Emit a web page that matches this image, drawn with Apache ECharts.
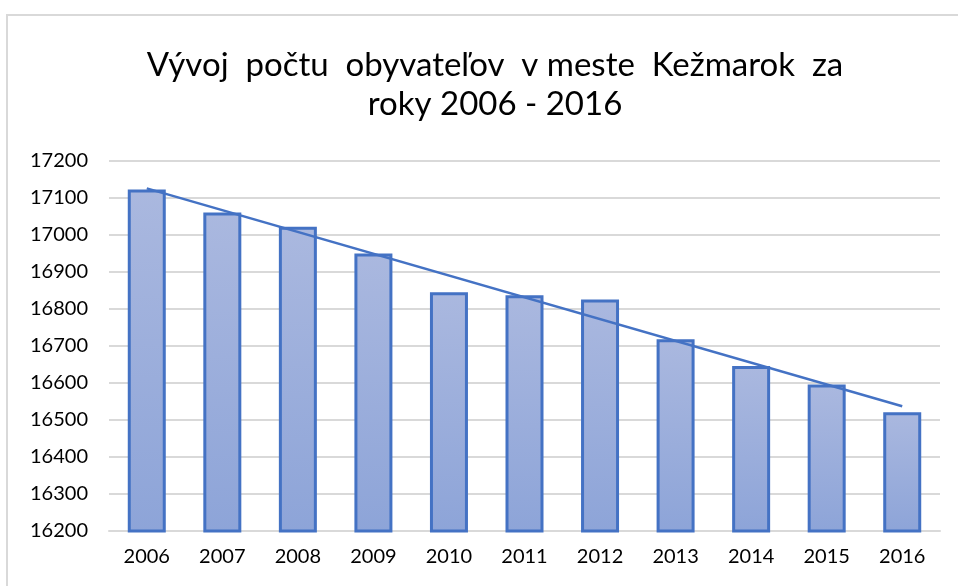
<!DOCTYPE html>
<html>
<head>
<meta charset="utf-8">
<script src="https://cdn.jsdelivr.net/npm/echarts@6/dist/echarts.min.js"></script>
<style>
  html, body { margin: 0; padding: 0; background: #fff; }
  #chart { width: 958px; height: 586px; }
</style>
</head>
<body>
<div id="chart"></div>
<script>
var years = ["2006", "2007", "2008", "2009", "2010", "2011", "2012", "2013", "2014", "2015", "2016"];
var population = [17123, 17061, 17022, 16950, 16845, 16837, 16826, 16718, 16646, 16596, 16521];
// lineárny trend (odčítané z grafu: začiatok a koniec)
var trend = [17126, null, null, null, null, null, null, null, null, null, 16537];

var myChart = echarts.init(document.getElementById("chart"));
var options = {
  animation: false,
  textStyle: { fontFamily: "Lato" },
  graphic: [
    {
      type: "rect",
      shape: { x: 7, y: 15, width: 1000, height: 620 },
      style: { fill: "none", stroke: "#d9d9d9", lineWidth: 2 },
      silent: true,
    },
  ],
  title: {
    text: "Vývoj  počtu  obyvateľov  v meste  Kežmarok  za\nroky 2006 - 2016",
    left: 490,
    top: 41,
    textAlign: "center",
    textStyle: {
      fontFamily: "Lato",
      fontWeight: "normal",
      fontSize: 33,
      lineHeight: 39,
      color: "#000",
    },
  },
  grid: { left: 109, right: 18, top: 161, bottom: 55 },
  xAxis: {
    type: "category",
    data: years,
    axisLine: { lineStyle: { color: "#d9d9d9", width: 2 } },
    axisTick: { show: false },
    axisLabel: { color: "#000", fontSize: 20, margin: 16 },
  },
  yAxis: {
    type: "value",
    min: 16200,
    max: 17200,
    interval: 100,
    axisLine: { show: false },
    axisTick: { show: false },
    axisLabel: {
      color: "#000",
      fontSize: 20,
      margin: 21,
      formatter: function (v) {
        return String(v);
      },
    },
    splitLine: { lineStyle: { color: "#d9d9d9", width: 2 } },
  },
  series: [
    {
      type: "bar",
      data: population,
      barWidth: 38,
      itemStyle: {
        color: new echarts.graphic.LinearGradient(0, 0, 0, 1, [
          { offset: 0, color: "#aab8df" },
          { offset: 1, color: "#8da4d8" },
        ]),
        borderColor: "#4472c4",
        borderWidth: 3,
      },
    },
    {
      type: "line",
      data: trend,
      connectNulls: true,
      symbol: "none",
      lineStyle: { color: "#4472c4", width: 2.5 },
      z: 5,
    },
  ],
};
myChart.setOption(options);
</script>
</body>
</html>
